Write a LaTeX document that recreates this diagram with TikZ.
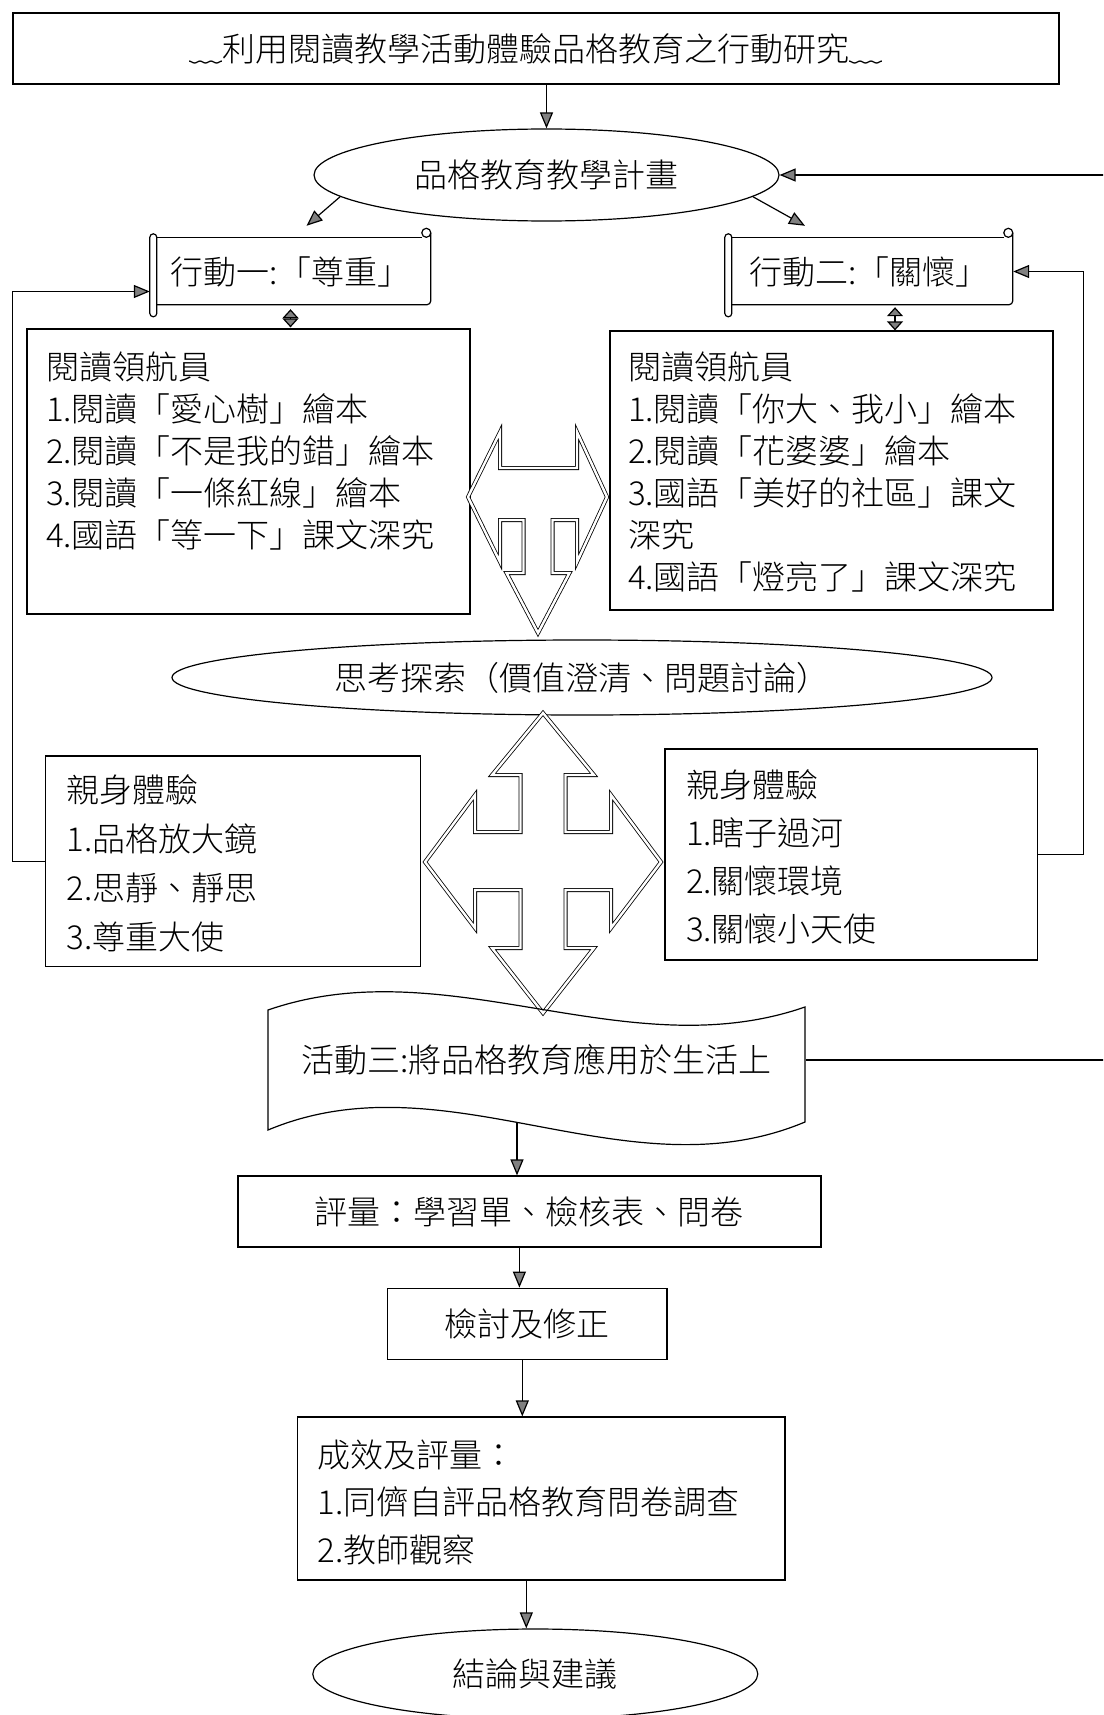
\documentclass[tikz,border=0pt]{standalone}
\usepackage{fontspec}
\IfFontExistsTF{Noto Sans CJK TC Light}{\newfontfamily\cjk{Noto Sans CJK TC Light}}{\newfontfamily\cjk{Noto Sans CJK TC}}
\usetikzlibrary{positioning}
\usetikzlibrary{shapes.geometric}
\usetikzlibrary{arrows.meta}
\newcommand{\boxlines}[3]{\begin{minipage}[t][#1][t]{#2}#3\end{minipage}}
\tikzset{
	plainbox/.style={
		draw,
		rectangle,
		line width=1.2pt,
		inner sep=0pt,
		font=\cjk\fontsize{33}{42}\selectfont
	},
	listbox/.style={
		draw,
		rectangle,
		line width=1.2pt,
		inner xsep=20pt,
		inner ysep=21pt,
		font=\cjk\fontsize{33}{42}\selectfont
	},
	ovalnode/.style={
		draw,
		ellipse,
		line width=1.2pt,
		inner sep=0pt,
		font=\cjk\fontsize{33}{42}\selectfont
	},
	scrollnode/.style={
		rectangle,
		inner sep=0pt,
		minimum height=91pt,
		font=\cjk\fontsize{33}{42}\selectfont
	},
	flow/.style={->, >={Triangle[length=16pt,width=13pt,fill=gray]}, line width=1.2pt},
	twoway/.style={<->, >={Triangle[length=9pt,width=16pt,fill=gray]}, line width=1.2pt},
	hollow/.style={draw, double, double distance=2.4pt, line width=0.8pt, line join=miter}
}
\begin{document}
\begin{tikzpicture}[x=1pt,y=-1pt]
	\path[use as bounding box, clip] (0,0) rectangle (1103,1715);

	% title and plan
	\node[plainbox, minimum width=1046pt, minimum height=71pt] (title) at (536,48.5) {﹏利用閱讀教學活動體驗品格教育之行動研究﹏};
	\node[ovalnode, minimum width=465pt, minimum height=92pt] (plan) at (546.5,175) {品格教育教學計畫};

	% the two actions (scrolls)
	\node[scrollnode, minimum width=281pt] (act1) at (290.5,271.5) {行動一:「尊重」};
	\node[scrollnode, minimum width=288pt] (act2) at (869,271.5) {行動二:「關懷」};
	\foreach \s/\w in {act1/281, act2/288}{
		\begin{scope}[shift={(\s.north west)}, line width=1.2pt]
			\draw[rounded corners=3.5pt] (0,8) rectangle (7,91);
			\draw (7,12) -- (\w-9,12);
			\draw (\w-4.5,7) circle[radius=4.5pt];
			\draw[rounded corners=4pt] (\w,7) -- (\w,79) -- (7,79);
		\end{scope}
	}

	% reading boxes
	\node[listbox, inner xsep=19pt, inner ysep=23pt] (read1) at (248.5,471.5) {\boxlines{239pt}{405pt}{閱讀領航員\\1.閱讀「愛心樹」繪本\\2.閱讀「不是我的錯」繪本\\3.閱讀「一條紅線」繪本\\4.國語「等一下」課文深究}};
	\node[listbox, inner xsep=18pt, inner ysep=21pt] (read2) at (831.5,470.5) {\boxlines{237pt}{407pt}{閱讀領航員\\1.閱讀「你大、我小」繪本\\2.閱讀「花婆婆」繪本\\3.國語「美好的社區」課文\\深究\\4.國語「燈亮了」課文深究}};

	\node[ovalnode, minimum width=820pt, minimum height=75pt] (think) at (582,677.5) {思考探索（價值澄清、問題討論）};

	% experience boxes
	\node[listbox, inner xsep=21pt, inner ysep=18.5pt, font=\cjk\fontsize{33}{49}\selectfont] (exp1) at (233.2,861.3) {\boxlines{173.7pt}{333pt}{親身體驗\\1.品格放大鏡\\2.思靜、靜思\\3.尊重大使}};
	\node[listbox, inner xsep=21pt, inner ysep=20.5pt, font=\cjk\fontsize{33}{48}\selectfont] (exp2) at (851.3,854.5) {\boxlines{170pt}{330.6pt}{親身體驗\\1.瞎子過河\\2.關懷環境\\3.關懷小天使}};

	% block arrows
	\draw[hollow] (468,497) -- (500,432) -- (500,468) -- (577,468) -- (577,432) -- (607,497)
		-- (577,562) -- (577,520) -- (552.5,520) -- (552.5,573) -- (569.5,573) -- (538,633)
		-- (506.5,573) -- (523.5,573) -- (523.5,520) -- (500,520) -- (500,562) -- cycle;
	\draw[hollow] (543,713) -- (594,775) -- (565.5,775) -- (565.5,832) -- (611,832) -- (611,795)
		-- (661,862) -- (611,928) -- (611,890) -- (565.5,890) -- (565.5,948) -- (594,948)
		-- (543,1013) -- (492,948) -- (520.5,948) -- (520.5,890) -- (475,890) -- (475,928)
		-- (425,862) -- (475,795) -- (475,832) -- (520.5,832) -- (520.5,775) -- (492,775) -- cycle;

	% activity three
	\node[plainbox, draw=none, minimum width=537pt, minimum height=100pt] (act3) at (536.5,1060) {活動三:將品格教育應用於生活上};
	\draw[line width=1.2pt] (268,1010) .. controls (447,948) and (626,1069) .. (805,1007)
		-- (805,1122) .. controls (626,1197) and (447,1055) .. (268,1130) -- cycle;
	\coordinate (act3foot) at (517,1122);

	% evaluation chain
	\node[plainbox, minimum width=583pt, minimum height=71pt] (eval) at (529.4,1211.5) {評量：學習單、檢核表、問卷};
	\node[plainbox, minimum width=279.4pt, minimum height=71.6pt] (review) at (527.3,1324) {檢討及修正};
	\node[listbox, inner xsep=20pt, inner ysep=22.5pt, font=\cjk\fontsize{33}{47.5}\selectfont] (result) at (541.3,1498.5) {\boxlines{118pt}{447.4pt}{成效及評量：\\1.同儕自評品格教育問卷調查\\2.教師觀察}};
	\node[ovalnode, minimum width=445pt, minimum height=90pt] (concl) at (535.3,1674) {結論與建議};

	% connectors
	\draw[flow] (title.south -| plan.north) -- (plan.north);
	\draw[flow] (plan.186) -- ([xshift=16pt]act1.north);
	\draw[flow] (plan.354) -- ([xshift=-64pt]act2.north);
	\draw[twoway, shorten <=-8pt, shorten >=1pt] (act1.south) -- (act1.south |- read1.north);
	\draw[twoway, shorten <=-10pt, transform canvas={xshift=26pt}] (act2.south) -- (act2.south |- read2.north);
	\draw[flow] (exp1.west) -- ++(-33,0) |- ([yshift=-20pt]act1.west);
	\draw[flow] (exp2.east) -- ++(45,0) |- (act2.east);
	\draw[flow] (act3.east) -- ++(400,0) |- (plan.east);
	\draw[flow] (act3foot) -- (act3foot |- eval.north);
	\draw[flow, transform canvas={xshift=-10pt}] (eval.south) -- (eval.south |- review.north);
	\draw[flow, transform canvas={xshift=-5pt}] (review.south) -- (review.south |- result.north);
	\draw[flow, transform canvas={xshift=-15pt}] (result.south) -- (result.south |- concl.north);
\end{tikzpicture}
\end{document}
